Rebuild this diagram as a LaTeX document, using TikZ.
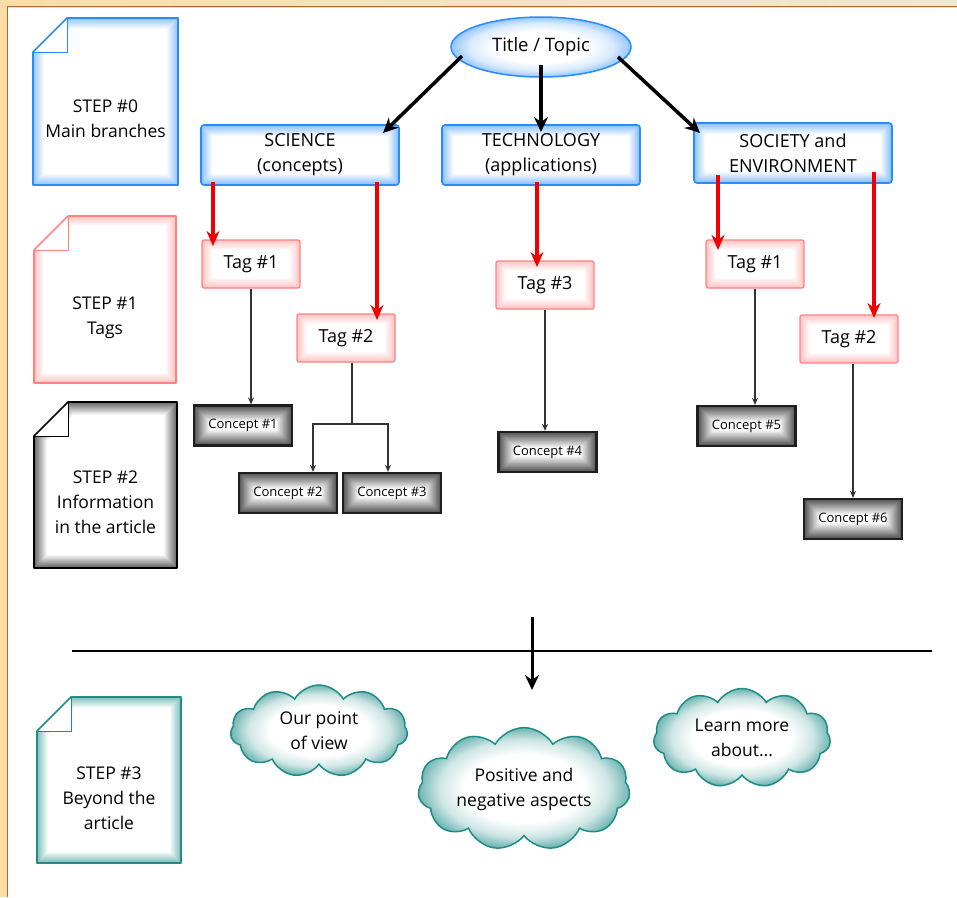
\documentclass[tikz,border=0pt]{standalone}
\usepackage{fontspec}
\setmainfont{Open Sans}
\usetikzlibrary{shapes.geometric,shapes.symbols,arrows.meta,calc}
\definecolor{bblue}{RGB}{40,140,250}
\definecolor{bpink}{RGB}{255,130,130}
\definecolor{bteal}{RGB}{30,140,135}
\definecolor{bred}{RGB}{240,0,0}
\definecolor{bdark}{RGB}{30,30,30}
\definecolor{framebg}{RGB}{252,221,168}
\definecolor{framebgtwo}{RGB}{238,232,214}
\definecolor{framebrown}{RGB}{176,108,48}
\colorlet{tealA}{bteal!22!white}
\colorlet{tealB}{bteal!65!white}
\colorlet{blueA}{bblue!18!white}
\colorlet{blueB}{bblue!50!white}
\pgfdeclareradialshading{cloudglow}{\pgfpoint{0bp}{0bp}}{color(0bp)=(white); color(14bp)=(white); color(20bp)=(tealA); color(25bp)=(tealB); color(50bp)=(tealB)}
\pgfdeclareradialshading{ellglow}{\pgfpoint{0bp}{0bp}}{color(0bp)=(white); color(13bp)=(white); color(20bp)=(blueA); color(25bp)=(blueB); color(50bp)=(blueB)}
\newcommand\fsz[1]{\fontsize{#1}{25}\selectfont}
\newcommand\stepdoc[7]{% x0,y0,x1,y1,color,max,width
  \begin{scope}
    \clip (#1+34,#2) -- (#3,#2) -- (#3,#4) -- (#1,#4) -- (#1,#2+34) -- cycle;
    \foreach \d [evaluate=\d as \p using {max(0,int(#6*(1-\d/#7)))}] in {0,...,#7}{%
      \fill[#5!\p!white] (#1+34+0.4*\d,#2+\d) -- (#3-\d,#2+\d) -- (#3-\d,#4-\d) -- (#1+\d,#4-\d) -- (#1+\d,#2+34+0.4*\d) -- cycle;}
    \fill[white] (#1,#2+34) -- (#1+34,#2+34) -- (#1+34,#2) -- cycle;
  \end{scope}
  \draw[#5, line width=1.6pt, line join=round] (#1+34,#2) -- (#3,#2) -- (#3,#4) -- (#1,#4) -- (#1,#2+34) -- cycle;
  \draw[#5, line width=1pt] (#1,#2+34) -- (#1+34,#2+34) -- (#1+34,#2);
}
\tikzset{
  glow/.style n args={3}{path picture={\foreach \d [evaluate=\d as \p using {max(0,int(#2*(1-\d/#3)))}] in {0,...,#3}{\fill[#1!\p!white, rounded corners=2pt] ([shift={(\d pt,-\d pt)}]path picture bounding box.north west) rectangle ([shift={(-\d pt,\d pt)}]path picture bounding box.south east);}}},
  branch/.style={draw=bblue, line width=1.6pt, rounded corners=3pt, minimum width=198pt, minimum height=60pt, align=center, font=\fsz{18}, glow={bblue}{55}{11}},
  tagbox/.style={draw=bpink, line width=1.2pt, rounded corners=2pt, minimum width=98pt, minimum height=48pt, font=\fsz{18}, glow={bpink}{48}{10}},
  conbox/.style={draw=bdark, line width=2.2pt, minimum width=98pt, minimum height=40pt, font=\fsz{13}, glow={black}{68}{16}},
  titleell/.style={ellipse, draw=bblue, line width=1.5pt, shade, shading=ellglow, minimum width=180pt, minimum height=60pt, font=\fsz{18.5}},
  cloudbox/.style={cloud, cloud puffs=11, cloud puff arc=120, aspect=2, draw=bteal, line width=1.5pt, shade, shading=cloudglow, inner sep=0pt, align=center, font=\fsz{17.5}},
  steptext/.style={align=center, font=\fsz{17.5}},
  bigarrow/.style={-{Stealth[length=15pt,width=14pt,inset=5pt]}, line width=3.5pt, black},
  redarrow/.style={-{Stealth[length=15pt,width=13pt,inset=5pt]}, line width=3.2pt, bred},
  thinarrow/.style={-{Stealth[length=7pt,width=6pt]}, line width=1.3pt, black!80},
  thinline/.style={line width=1.3pt, black!80},
}
\begin{document}
\begin{tikzpicture}[x=1pt,y=-1pt]
\useasboundingbox (0,0) rectangle (957,897);
\fill[white] (0,0) rectangle (957,897);
\shade[left color=framebg, right color=framebgtwo] (0,0) rectangle (957,7);
\fill[framebg] (0,0) rectangle (8,897);
\draw[framebrown, line width=1.5pt] (957,6.5) -- (7.5,6.5) -- (7.5,897);

% step documents
\stepdoc{33}{18}{178}{185}{bblue}{50}{11}
\stepdoc{34}{216}{176}{383}{bpink}{48}{10}
\stepdoc{34}{402}{177}{568}{black}{60}{13}
\stepdoc{37}{697}{181}{863}{bteal}{55}{11}
\node[steptext] (s0) at (105.5,118.5) {STEP \#0\\Main branches};
\node[steptext] (s1) at (105,317.5) {STEP \#1\\Tags};
\node[steptext] (s2) at (105.5,502.5) {STEP \#2\\Information\\in the article};
\node[steptext] (s3) at (109,798.5) {STEP \#3\\Beyond the\\article};

% main nodes
\node[titleell] (title) at (541,47) {Title / Topic};
\node[branch] (sci) at (300,155) {SCIENCE\\(concepts)};
\node[branch] (tech) at (541,155) {TECHNOLOGY\\(applications)};
\node[branch] (soc) at (793,153) {SOCIETY and\\ENVIRONMENT};

\node[tagbox] (t1s) at (251,264) {Tag \#1};
\node[tagbox] (t2s) at (346,338) {Tag \#2};
\node[tagbox] (t3) at (545,285) {Tag \#3};
\node[tagbox] (t1o) at (755,264) {Tag \#1};
\node[tagbox] (t2o) at (849,339) {Tag \#2};

\node[conbox] (c1) at (243,425.5) {Concept \#1};
\node[conbox] (c2) at (288,493) {Concept \#2};
\node[conbox] (c3) at (392,493) {Concept \#3};
\node[conbox] (c4) at (547.5,452) {Concept \#4};
\node[conbox] (c5) at (746.5,426) {Concept \#5};
\node[conbox] (c6) at (853,519) {Concept \#6};

% clouds
\node[cloudbox, minimum width=177pt, minimum height=92pt] (cl1) at (319,731) {Our point\\of view};
\node[cloudbox, minimum width=212pt, minimum height=122pt] (cl2) at (524,789) {Positive and\\negative aspects};
\node[cloudbox, minimum width=177pt, minimum height=99pt] (cl3) at (742,738) {Learn more\\about...};

% black arrows
\draw[bigarrow] ([shift={(-79,9)}]title.center) -- ([shift={(83,-22)}]sci.center);
\draw[bigarrow] ([shift={(0,18)}]title.center) -- ([shift={(0,-23)}]tech.center);
\draw[bigarrow] ([shift={(77,10)}]title.center) -- ([shift={(-93,-20)}]soc.center);

% red arrows
\draw[redarrow] ([shift={(-87,27)}]sci.center) -- ([shift={(-38,-18)}]t1s.center);
\draw[redarrow] ([shift={(77,27)}]sci.center) -- ([shift={(31,-18)}]t2s.center);
\draw[redarrow] ([shift={(-4,27)}]tech.center) -- ([shift={(-8,-18)}]t3.center);
\draw[redarrow] ([shift={(-75,22)}]soc.center) -- ([shift={(-37,-14)}]t1o.center);
\draw[redarrow] ([shift={(81,19)}]soc.center) -- ([shift={(25,-21)}]t2o.center);

% thin connectors
\draw[thinarrow] (t1s.south) -- (t1s.south |- c1.north);
\coordinate (sp) at (352,424);
\draw[thinline] (sp |- t2s.south) -- (sp);
\draw[thinarrow] (sp) -| ([shift={(25,0)}]c2.north);
\draw[thinarrow] (sp) -| ([shift={(-4,0)}]c3.north);
\draw[thinarrow] (t3.south) -- (t3.south |- c4.north);
\draw[thinarrow] (t1o.south) -- (t1o.south |- c5.north);
\draw[thinarrow] (c6.north |- t2o.south) -- (c6.north);

% divider
\coordinate (dl) at (72,651);
\coordinate (dr) at (932,651);
\draw[line width=2.2pt] (dl) -- (dr);
\coordinate (as) at (532,617);
\coordinate (ae) at (532,690);
\draw[bigarrow, line width=3pt] (as) -- (ae);
\end{tikzpicture}
\end{document}
